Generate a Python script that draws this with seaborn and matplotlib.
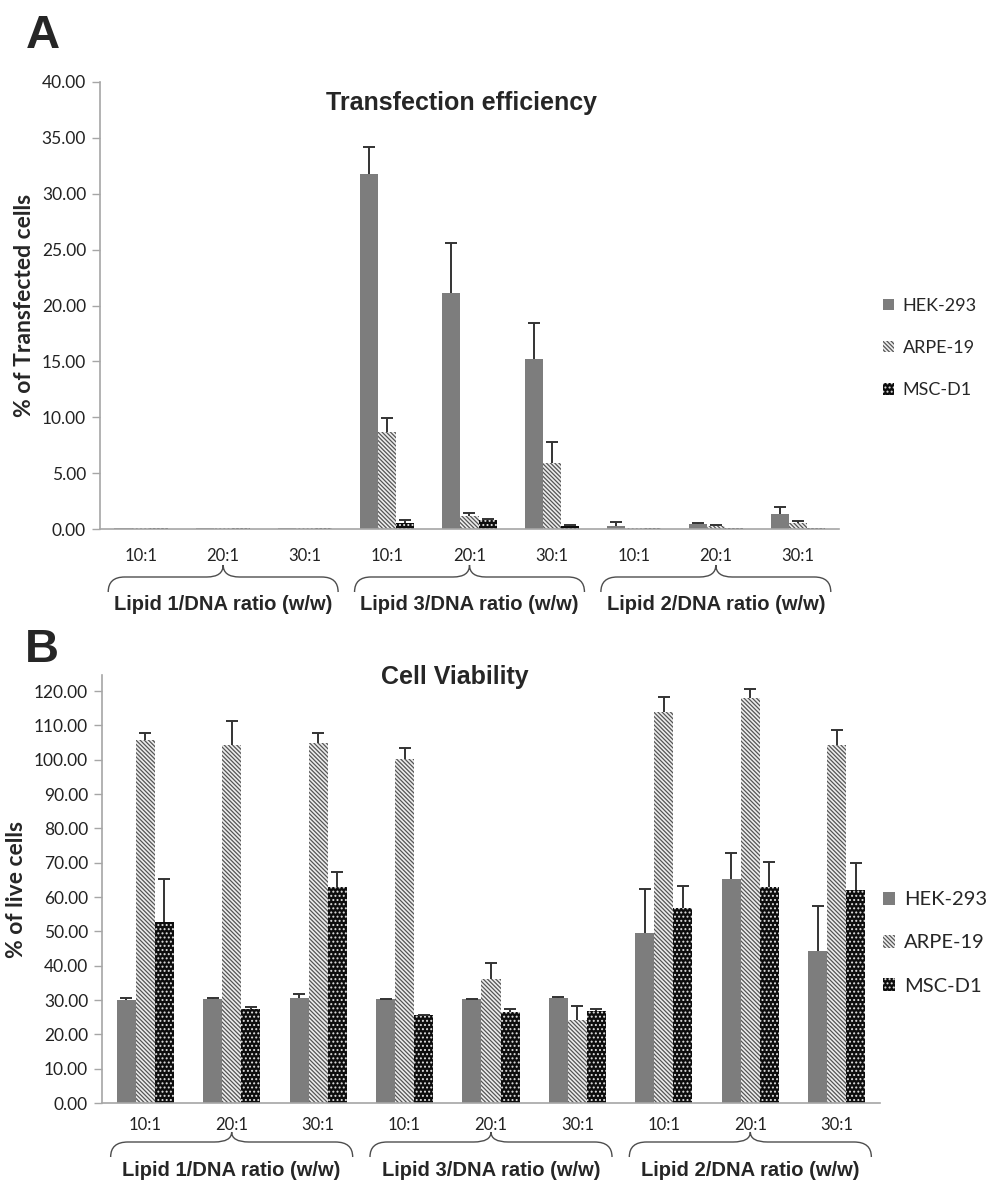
import matplotlib
matplotlib.use("Agg")
import matplotlib.pyplot as plt
from matplotlib.path import Path
from matplotlib.patches import PathPatch, Patch
import numpy as np
import pandas as pd
import seaborn as sns

cells = ["HEK-293", "ARPE-19", "MSC-D1"]
ratios = ["10:1", "20:1", "30:1"] * 3
lipids = ["Lipid 1/DNA ratio (w/w)", "Lipid 3/DNA ratio (w/w)", "Lipid 2/DNA ratio (w/w)"]

# panel A: transfection efficiency (%)
tf_hek = [0.05, 0.05, 0.05, 31.8, 21.1, 15.2, 0.3, 0.45, 1.3]
tf_hek_err = [0, 0, 0, 2.4, 4.5, 3.2, 0.3, 0.1, 0.7]
tf_arpe = [0.05, 0.05, 0.05, 8.7, 1.2, 5.9, 0.1, 0.3, 0.5]
tf_arpe_err = [0, 0, 0, 1.25, 0.25, 1.9, 0, 0.1, 0.2]
tf_msc = [0.05, 0.05, 0.05, 0.5, 0.8, 0.25, 0.05, 0.05, 0.05]
tf_msc_err = [0, 0, 0, 0.35, 0.1, 0.1, 0, 0, 0]

# panel B: cell viability (%)
cv_hek = [30.0, 30.3, 30.7, 30.3, 30.3, 30.7, 49.6, 65.2, 44.4]
cv_hek_err = [0.7, 0.2, 1.0, 0.1, 0.1, 0.1, 12.6, 7.6, 13.1]
cv_arpe = [105.7, 104.3, 104.8, 100.1, 36.1, 24.2, 114.0, 117.9, 104.3]
cv_arpe_err = [2.2, 7.0, 3.1, 3.2, 4.8, 4.1, 4.2, 2.6, 4.4]
cv_msc = [52.6, 27.3, 62.8, 25.6, 26.4, 26.9, 56.7, 62.8, 62.0]
cv_msc_err = [12.6, 0.8, 4.4, 0.1, 1.0, 0.4, 6.5, 7.5, 7.8]

sns.set_theme(style="white")
plt.rcParams["font.family"] = ["Lato", "DejaVu Sans"]
plt.rcParams["hatch.linewidth"] = 0.9

W, H = 989, 1190
fig = plt.figure(figsize=(W / 100, H / 100), dpi=100)

slots = [f"s{i}" for i in range(9)]
styles = {
    "HEK-293": dict(facecolor="#7d7d7d", edgecolor="#7d7d7d", hatch=None),
    "ARPE-19": dict(facecolor="#ededed", edgecolor="#555555", hatch="\\" * 8),
    "MSC-D1": dict(facecolor="#0d0d0d", edgecolor="#e0e0e0", hatch="...."),
}
spine_col = "#a6a6a6"
arial = ["Liberation Sans", "DejaVu Sans"]


def brace(ax, x0, x1, d_peak, d_line, d_end, h_px, r=0.2):
    xm = (x0 + x1) / 2
    yp, yl, ye = -d_peak / h_px, -d_line / h_px, -d_end / h_px
    verts = [(x0, ye), (x0, yl), (x0 + r, yl), (xm - r, yl), (xm, yl), (xm, yp),
             (xm, yl), (xm + r, yl), (x1 - r, yl), (x1, yl), (x1, ye)]
    codes = [Path.MOVETO, Path.CURVE3, Path.CURVE3, Path.LINETO, Path.CURVE3, Path.CURVE3,
             Path.CURVE3, Path.CURVE3, Path.LINETO, Path.CURVE3, Path.CURVE3]
    ax.add_patch(PathPatch(Path(verts, codes), transform=ax.get_xaxis_transform(),
                           fill=False, edgecolor="#4d4d4d", lw=1.0, clip_on=False))


def panel(rect, vals, errs, ylim, yticks, ylabel, h_px, d):
    ax = fig.add_axes(rect)
    df = pd.DataFrame({
        "slot": slots * 3,
        "cell": np.repeat(cells, 9),
        "value": np.concatenate(vals),
    })
    sns.barplot(data=df, x="slot", y="value", hue="cell", order=slots, hue_order=cells,
                width=0.66, gap=0, errorbar=None, legend=False, ax=ax, linewidth=0)
    for cont, cell, err in zip(ax.containers, cells, errs):
        for bar in cont:
            bar.set_facecolor(styles[cell]["facecolor"])
            bar.set_edgecolor(styles[cell]["edgecolor"])
            bar.set_linewidth(0)
            if styles[cell]["hatch"]:
                bar.set_hatch(styles[cell]["hatch"])
        xs = [b.get_x() + b.get_width() / 2 for b in cont]
        ys = [b.get_height() for b in cont]
        keep = [i for i, e in enumerate(err) if e > 0]
        eb = ax.errorbar([xs[i] for i in keep], [ys[i] for i in keep],
                         yerr=[[0] * len(keep), [err[i] for i in keep]],
                         fmt="none", ecolor="#333333", elinewidth=1.4, capsize=4.5,
                         capthick=1.4)
        eb[1][0].set_visible(False)  # plus-only error bars
    ax.set_xlim(-0.5, 8.5)
    ax.set_ylim(*ylim)
    ax.set_yticks(yticks)
    ax.set_yticklabels([f"{t:.2f}" for t in yticks], fontsize=12.5, color="#222222")
    ax.set_xticks(range(9))
    ax.set_xticklabels(ratios, fontsize=12, color="#222222")
    ax.set_xticks(np.arange(-0.5, 9, 1), minor=True)
    ax.tick_params(axis="x", which="major", length=0, pad=d["lab"])
    ax.tick_params(axis="x", which="minor", length=6, width=1, color=spine_col, direction="out")
    ax.tick_params(axis="y", length=6, width=1, color=spine_col, direction="out", left=True, pad=4)
    for s in ["top", "right"]:
        ax.spines[s].set_visible(False)
    for s in ["left", "bottom"]:
        ax.spines[s].set_color(spine_col)
        ax.spines[s].set_linewidth(1.2)
    ax.set_xlabel("")
    ax.set_ylabel(ylabel, fontsize=16.5, fontweight="bold", labelpad=5)
    for g in range(3):
        brace(ax, 3 * g - 0.4, 3 * g + 2.4, d["peak"], d["line"], d["end"], h_px)
        ax.text(3 * g + 1, -d["txt"] / h_px, lipids[g], transform=ax.get_xaxis_transform(),
                ha="center", va="center", fontsize=14.5, fontweight="bold", family=arial)
    return ax


# panel A
hA = 529 - 82
axA = panel([100 / W, 1 - 529 / H, 739 / W, hA / H],
            [tf_hek, tf_arpe, tf_msc], [tf_hek_err, tf_arpe_err, tf_msc_err],
            (0, 40), np.arange(0, 41, 5), "% of Transfected cells", hA,
            dict(lab=14, peak=36, line=48, end=63, txt=75))

# panel B
hB = 1103 - 675
axB = panel([102 / W, 1 - 1103 / H, 778 / W, hB / H],
            [cv_hek, cv_arpe, cv_msc], [cv_hek_err, cv_arpe_err, cv_msc_err],
            (0, hB / 3.433), np.arange(0, 121, 10), "% of live cells", hB,
            dict(lab=10, peak=29, line=39, end=54, txt=68))

handles = [Patch(facecolor=styles[c]["facecolor"], edgecolor=styles[c]["edgecolor"],
                 hatch=styles[c]["hatch"], linewidth=0) for c in cells]
axA.legend(handles, cells, loc="center left", bbox_to_anchor=(883 / W, 1 - 348 / H),
           bbox_transform=fig.transFigure, frameon=False, fontsize=13, borderpad=0,
           borderaxespad=0, handlelength=0.6, handleheight=0.6, handletextpad=0.5,
           labelspacing=1.45)
axB.legend(handles, cells, loc="center left", bbox_to_anchor=(883 / W, 1 - 943 / H),
           bbox_transform=fig.transFigure, frameon=False, fontsize=14.5, borderpad=0,
           borderaxespad=0, handlelength=0.6, handleheight=0.6, handletextpad=0.45,
           labelspacing=1.3)

fig.text(461 / W, 1 - 103 / H, "Transfection efficiency", ha="center", va="center",
         fontsize=18, fontweight="bold", family=arial)
fig.text(455 / W, 1 - 677 / H, "Cell Viability", ha="center", va="center",
         fontsize=18, fontweight="bold", family=arial)
fig.text(26 / W, 1 - 48 / H, "A", ha="left", va="baseline", fontsize=34,
         fontweight="bold", family=arial)
fig.text(25 / W, 1 - 662 / H, "B", ha="left", va="baseline", fontsize=34,
         fontweight="bold", family=arial)

fig.savefig("out.png", dpi=100, facecolor="white")
